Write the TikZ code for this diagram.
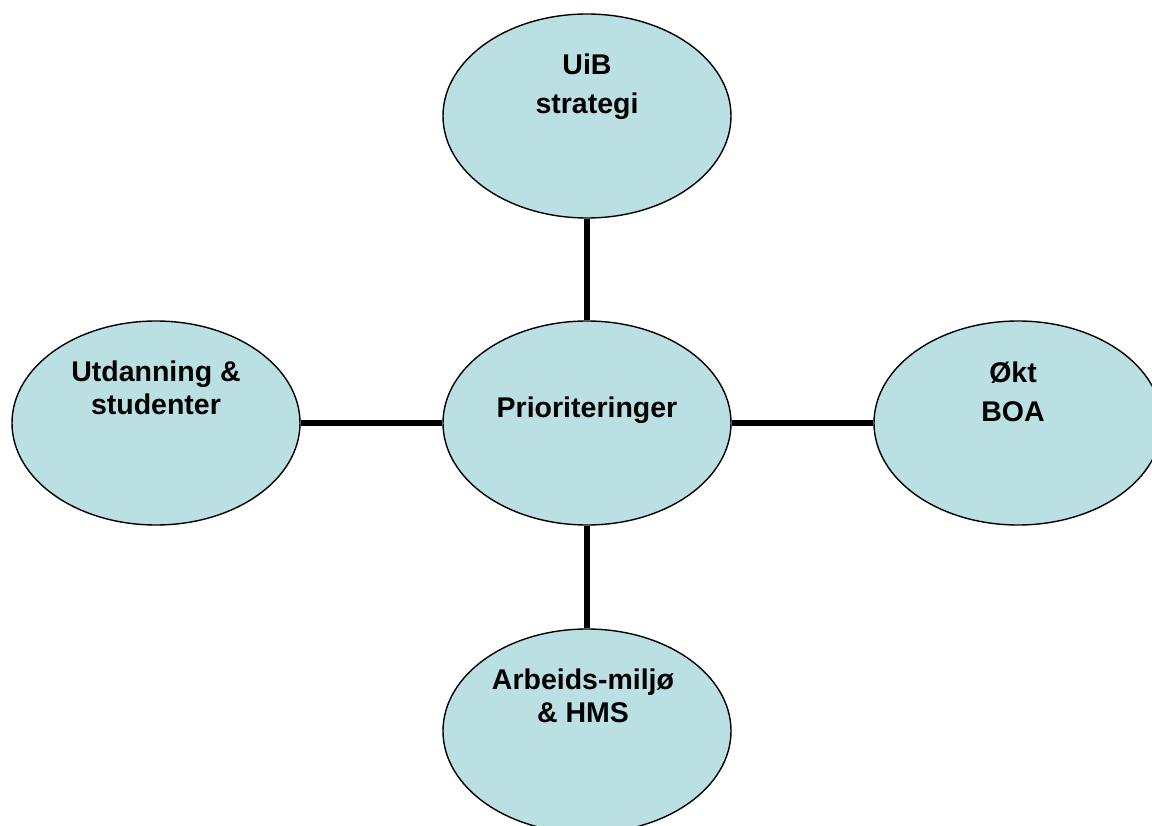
\documentclass[tikz,border=0pt]{standalone}
\usepackage{fontspec}
\setmainfont{Liberation Sans}
\usetikzlibrary{shapes.geometric}
\definecolor{bubble}{RGB}{187,224,227}
\tikzset{
  bubble/.style={ellipse, draw=black, line width=1.4pt, fill=bubble,
    minimum width=288pt, minimum height=204pt, inner sep=0pt},
  label38/.style={anchor=north, inner sep=0pt, align=center,
    font=\bfseries\fontsize{28.5}{38.5}\selectfont},
  label33/.style={anchor=north, inner sep=0pt, align=center,
    font=\bfseries\fontsize{28.5}{33}\selectfont},
  link/.style={line width=6pt, black}
}
\begin{document}
\begin{tikzpicture}[x=1pt,y=-1pt]
\useasboundingbox (0,0) rectangle (1152,826);
\clip (0,0) rectangle (1152,826);
\fill[white] (0,0) rectangle (1152,826);
\node[bubble] (top) at (587,116) {};
\node[bubble] (mid) at (587,423) {};
\node[bubble] (left) at (156,423) {};
\node[bubble] (right) at (1018,423) {};
\node[bubble] (bot) at (587,731) {};
\draw[link] (top.south) -- (mid.north);
\draw[link] (mid.south) -- (bot.north);
\draw[link] (left.east) -- (mid.west);
\draw[link] (mid.east) -- (right.west);
\node[label38] (toptext) at (587,54) {UiB\\strategi};
\node[label38] (midtext) at (587,397) {Prioriteringer};
\node[label33] (lefttext) at (156,361) {Utdanning \&\\studenter};
\node[label38] (righttext) at (1013,362) {Økt\\BOA};
\node[label33] (bottext) at (583,669) {Arbeids-miljø\\\& HMS};
\end{tikzpicture}
\end{document}
